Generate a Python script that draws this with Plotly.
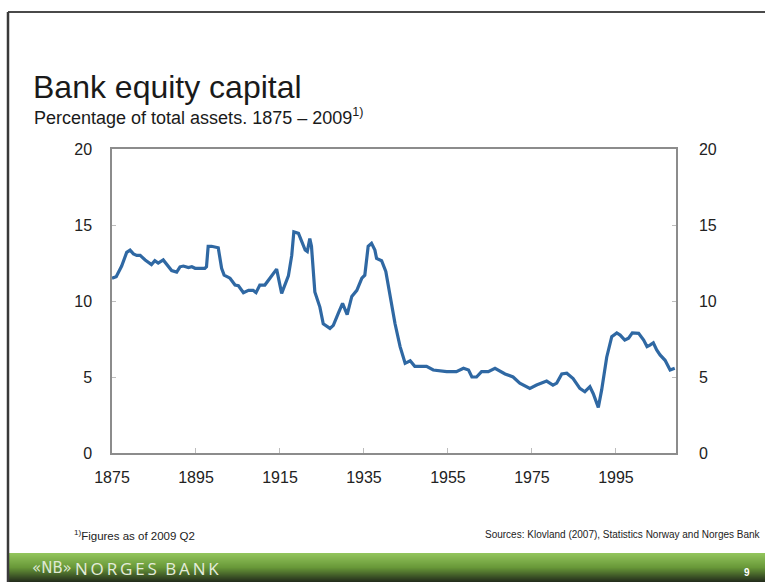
import plotly.graph_objects as go

# Bank equity capital as a percentage of total assets
years = [1875, 1876, 1877.3, 1878.5, 1879.3, 1880.1, 1880.9, 1881.7, 1882.9, 1884, 1884.4,
         1885.2, 1886, 1887.2, 1888, 1889.2, 1890.4, 1891.2, 1892, 1893.2, 1894, 1894.8,
         1897.1, 1897.5, 1897.9, 1898.7, 1900.3, 1901.1, 1901.7, 1903.1, 1904.3, 1905.1,
         1906.3, 1907.5, 1908.6, 1909.3, 1910.2, 1911.4, 1912.6, 1914.2, 1915.4, 1917,
         1917.8, 1918.3, 1919.4, 1920.2, 1921, 1921.5, 1922.1, 1922.5, 1923.3, 1924.5,
         1925.3, 1926.9, 1927.7, 1928.9, 1929.9, 1931, 1932.1, 1933.3, 1934.5, 1935.2,
         1936, 1936.8, 1937.6, 1938, 1939.2, 1940.2, 1941.3, 1942.4, 1943.6, 1944.8,
         1946, 1947.1, 1949.9, 1951.5, 1954.7, 1957, 1958.7, 1959.9, 1960.7, 1961.8,
         1963, 1964.6, 1966.2, 1967.4, 1968.6, 1970.5, 1972.1, 1974.5, 1976.1, 1978.5,
         1980, 1980.9, 1982.1, 1983.3, 1984.8, 1986.4, 1987.6, 1988.8, 1989.6, 1990.8,
         1991.6, 1992.8, 1994, 1995.2, 1996, 1997.1, 1998, 1998.9, 2000.4, 2001.6,
         2002.4, 2003.1, 2003.9, 2004.7, 2005.5, 2006.7, 2007.9, 2009]
equity_pct = [11.5, 11.6, 12.3, 13.2, 13.35, 13.1, 13.0, 13.0, 12.7, 12.5, 12.4,
              12.65, 12.5, 12.7, 12.4, 12.0, 11.9, 12.25, 12.3, 12.2, 12.25, 12.15,
              12.15, 12.25, 13.6, 13.6, 13.5, 12.15, 11.7, 11.5, 11.05, 11.0,
              10.55, 10.7, 10.7, 10.55, 11.05, 11.05, 11.5, 12.1, 10.5, 11.65,
              13.0, 14.55, 14.45, 13.9, 13.35, 13.25, 14.1, 13.6, 10.6, 9.6,
              8.5, 8.2, 8.4, 9.2, 9.85, 9.1, 10.3, 10.7, 11.5, 11.7,
              13.6, 13.8, 13.35, 12.8, 12.65, 11.95, 10.3, 8.5, 7.0, 5.9,
              6.07, 5.7, 5.7, 5.46, 5.35, 5.35, 5.57, 5.46, 5.0, 5.0,
              5.35, 5.35, 5.57, 5.4, 5.2, 5.0, 4.6, 4.25, 4.47, 4.73,
              4.47, 4.6, 5.2, 5.25, 4.9, 4.25, 4.03, 4.36, 3.9, 3.0,
              4.15, 6.3, 7.65, 7.9, 7.76, 7.43, 7.55, 7.9, 7.87, 7.43,
              7.0, 7.1, 7.25, 6.78, 6.45, 6.1, 5.46, 5.57]

x_ticks = [1875, 1895, 1915, 1935, 1955, 1975, 1995]
y_ticks = [0, 5, 10, 15, 20]

W, H = 765, 582
PL, PR, PT, PB = 112, 676, 149, 453  # plot-area edges in pixels


def px(x):
    return (x - PL) / (PR - PL)


def py(y):
    return (PB - y) / (PB - PT)


FONT = "Liberation Sans, Arial, sans-serif"
LINE_BLUE = "#2f68a3"
AXIS_GREY = "#8c8c8c"

fig = go.Figure()
fig.add_trace(go.Scatter(x=years, y=equity_pct, mode="lines",
                         line=dict(color=LINE_BLUE, width=3.2), hoverinfo="x+y",
                         showlegend=False))
# invisible copy so the right-hand axis is drawn
fig.add_trace(go.Scatter(x=years, y=equity_pct, mode="lines", yaxis="y2",
                         line=dict(color="rgba(0,0,0,0)", width=0), hoverinfo="skip",
                         showlegend=False))

shapes = []
# slide frame
shapes.append(dict(type="line", xref="paper", yref="paper",
                   x0=px(8), x1=px(W + 5), y0=py(12), y1=py(12),
                   line=dict(color="#4a4a4a", width=2)))
shapes.append(dict(type="line", xref="paper", yref="paper",
                   x0=px(8), x1=px(8), y0=py(12), y1=py(H + 5),
                   line=dict(color="#3a3a3a", width=2.5)))

# green footer band as a vertical gradient of thin strips
stops = [(0.0, (146, 196, 92)), (0.5, (104, 152, 56)), (1.0, (36, 46, 28))]


def grad(t):
    for (t0, c0), (t1, c1) in zip(stops[:-1], stops[1:]):
        if t <= t1:
            f = (t - t0) / (t1 - t0)
            return "rgb(%d,%d,%d)" % tuple(round(a + (b - a) * f) for a, b in zip(c0, c1))
    return "rgb(%d,%d,%d)" % stops[-1][1]


band_top, band_bot = 553, H
n = band_bot - band_top
for i in range(n):
    shapes.append(dict(type="rect", xref="paper", yref="paper", layer="below",
                       x0=px(9), x1=px(W + 2), y0=py(band_top + i), y1=py(band_top + i + 1.05),
                       line=dict(width=0), fillcolor=grad(i / (n - 1))))

annotations = [
    dict(text="Bank equity capital", x=px(31), y=py(87), xanchor="left", yanchor="middle",
         font=dict(family=FONT, size=32, color="#1a1a1a")),
    dict(text="Percentage of total assets. 1875 – 2009<sup>1)</sup>", x=px(32), y=py(116),
         xanchor="left", yanchor="middle", font=dict(family=FONT, size=18, color="#1a1a1a")),
    dict(text="<sup>1)</sup>Figures as of 2009 Q2", x=px(72), y=py(535), xanchor="left",
         yanchor="middle", font=dict(family=FONT, size=11.5, color="#222")),
    dict(text="Sources: Klovland (2007), Statistics Norway and Norges Bank", x=px(763),
         y=py(534), xanchor="right", yanchor="middle", font=dict(family=FONT, size=10, color="#222")),
    dict(text="«NB»", x=px(30), y=py(568), xanchor="left", yanchor="middle",
         font=dict(family="DejaVu Sans, sans-serif", size=15, color="#dfe8d4")),
    dict(text="N\u2009O\u2009R\u2009G\u2009E\u2009S\u2002B\u2009A\u2009N\u2009K", x=px(73), y=py(568),
         xanchor="left", yanchor="middle",
         font=dict(family="Open Sans, sans-serif", size=17, color="#e4ecdb")),
    dict(text="<b>9</b>", x=px(747), y=py(572), xanchor="center", yanchor="middle",
         font=dict(family=FONT, size=10, color="#ffffff")),
]
for a in annotations:
    a.update(xref="paper", yref="paper", showarrow=False)

tick_font = dict(family=FONT, size=16, color="#222")
fig.update_layout(
    width=W, height=H,
    margin=dict(l=PL, r=W - PR, t=PT, b=H - PB, autoexpand=False),
    paper_bgcolor="white", plot_bgcolor="white",
    xaxis=dict(range=[1875, 2009.3], tickvals=x_ticks, ticks="inside", ticklen=5,
               tickcolor="#bdbdbd", showgrid=False, zeroline=False, showline=True,
               linecolor=AXIS_GREY, linewidth=1.5, mirror=True, tickfont=tick_font,
               ticklabelstandoff=9),
    yaxis=dict(range=[0, 20], tickvals=y_ticks, ticks="inside", ticklen=4,
               tickcolor="#bdbdbd", showgrid=False, zeroline=False, showline=True,
               linecolor=AXIS_GREY, linewidth=1.5, tickfont=tick_font,
               ticklabelstandoff=15),
    yaxis2=dict(range=[0, 20], tickvals=y_ticks, ticks="inside", ticklen=4,
                tickcolor="#bdbdbd", showgrid=False, zeroline=False, showline=True,
                linecolor=AXIS_GREY, linewidth=1.5, tickfont=tick_font,
                overlaying="y", side="right", ticklabelstandoff=18),
    shapes=shapes, annotations=annotations,
)

fig.write_html("out.html")
